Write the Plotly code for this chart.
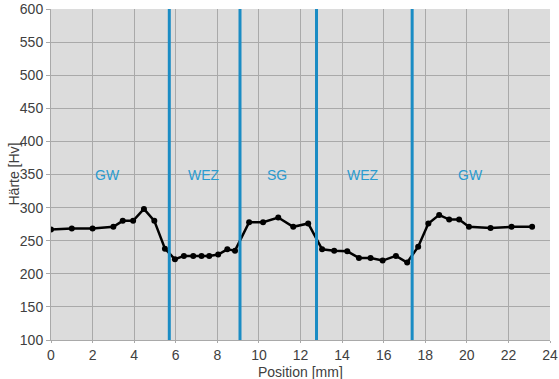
import plotly.graph_objects as go

# Hardness profile across the weld
position_mm = [0, 1.0, 2.0, 3.0, 3.45, 3.95, 4.47, 4.97, 5.48, 5.96, 6.39, 6.84, 7.24,
               7.61, 8.04, 8.48, 8.85, 9.53, 10.2, 10.93, 11.65, 12.37, 13.04, 13.62,
               14.25, 14.81, 15.37, 15.95, 16.59, 17.13, 17.66, 18.15, 18.67, 19.15,
               19.63, 20.1, 21.14, 22.15, 23.14]
hardness_hv = [267, 268.5, 268.5, 271, 280, 280, 298, 280, 238, 222, 227, 227, 227,
               227, 229, 237, 235, 278, 278, 285, 271, 276, 237, 235, 234, 224, 224,
               220, 227, 217, 241, 276, 289, 282, 282, 271, 269, 271, 271]

# Zone boundaries and zone names
zone_borders = [5.69, 9.09, 12.77, 17.37]
zone_names = ["GW", "WEZ", "SG", "WEZ", "GW"]
zone_label_x = [2.74, 7.36, 10.87, 15.0, 20.2]
zone_label_y = 350

x_ticks = list(range(0, 25, 2))
y_ticks = list(range(100, 601, 50))

blue = "#1a8cc4"
grid = "#a9a9a9"
font = "Liberation Sans, Arial, sans-serif"

fig = go.Figure()
fig.add_trace(go.Scatter(
    x=position_mm, y=hardness_hv, mode="lines+markers",
    line=dict(color="black", width=2.5),
    marker=dict(color="black", size=6),
    showlegend=False,
))

for xb in zone_borders:
    fig.add_shape(type="line", xref="x", yref="y", x0=xb, x1=xb, y0=100, y1=600,
                  line=dict(color=blue, width=3))

for name, xl in zip(zone_names, zone_label_x):
    fig.add_annotation(x=xl, y=zone_label_y, text=name, showarrow=False,
                       font=dict(family=font, size=14, color="#2a9bd0"))

# Axis titles placed as annotations for precise positioning
fig.add_annotation(xref="paper", yref="paper", x=0.5, y=0, yshift=-32,
                   yanchor="middle", text="Position [mm]", showarrow=False,
                   font=dict(family=font, size=14, color="#404040"))
fig.add_annotation(xref="paper", yref="paper", x=0, y=0.5, xshift=-38,
                   xanchor="center", text="Härte [Hv]", textangle=-90,
                   showarrow=False, font=dict(family=font, size=14, color="#404040"))

fig.update_layout(
    width=559, height=379,
    margin=dict(l=51, r=9, t=9, b=39, autoexpand=False),
    paper_bgcolor="white",
    plot_bgcolor="#dcdcdc",
    font=dict(family=font, size=14, color="#404040"),
)
fig.update_xaxes(
    range=[0, 24], tickvals=x_ticks, showgrid=True, gridcolor=grid, gridwidth=1,
    showline=True, linecolor=grid, linewidth=1, ticks="outside", ticklen=2,
    tickcolor=grid, zeroline=False, automargin=False,
)
fig.update_yaxes(
    range=[100, 600], tickvals=y_ticks, showgrid=True, gridcolor=grid, gridwidth=1,
    showline=True, linecolor=grid, linewidth=1, ticks="outside", ticklen=4,
    tickcolor=grid, zeroline=False, automargin=False,
)

fig.write_html("out.html")
